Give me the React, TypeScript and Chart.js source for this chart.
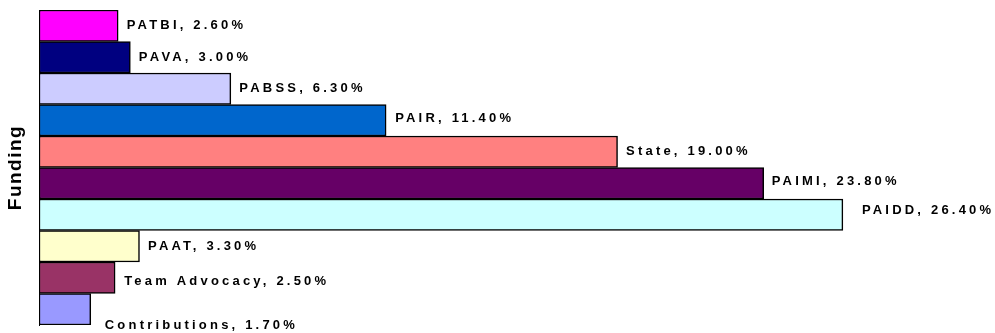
import React, { useEffect, useRef } from "react";
import { Chart, registerables } from "chart.js";

Chart.register(...registerables);

const categories = [
  "PATBI",
  "PAVA",
  "PABSS",
  "PAIR",
  "State",
  "PAIMI",
  "PAIDD",
  "PAAT",
  "Team Advocacy",
  "Contributions",
];

const shares = [2.6, 3.0, 6.3, 11.4, 19.0, 23.8, 26.4, 3.3, 2.5, 1.7];

const barColors = [
  "#FF00FF",
  "#000080",
  "#CCCCFF",
  "#0066CC",
  "#FF8080",
  "#660066",
  "#CCFFFF",
  "#FFFFCC",
  "#993366",
  "#9999FF",
];

const axisTitle = "Funding";

const FONT = "'Liberation Sans', Arial, sans-serif";

// label nudges (dx, dy) relative to bar end/centre, mimicking the original placement
const labelNudges: Record<number, [number, number]> = {
  3: [9, -2],
  5: [8, -2],
  6: [19, -4],
  8: [9, 4],
  9: [14, 16],
};

const labelPlugin = {
  id: "barLabels",
  afterDatasetsDraw(chart: any) {
    const ctx = chart.ctx;
    const meta = chart.getDatasetMeta(0);
    ctx.save();
    ctx.font = `bold 13px ${FONT}`;
    (ctx as any).letterSpacing = "3.2px";
    ctx.fillStyle = "#000";
    ctx.textAlign = "left";
    ctx.textBaseline = "middle";
    meta.data.forEach((bar: any, i: number) => {
      const [dx, dy] = labelNudges[i] || [8.5, 0];
      const text = `${categories[i]}, ${shares[i].toFixed(2)}%`;
      ctx.fillText(text, bar.x + dx, bar.y + dy);
    });
    ctx.restore();

    // rotated axis title
    const area = chart.chartArea;
    ctx.save();
    ctx.font = `bold 19px ${FONT}`;
    (ctx as any).letterSpacing = "1.5px";
    ctx.fillStyle = "#000";
    ctx.textAlign = "center";
    ctx.textBaseline = "middle";
    ctx.translate(16, (area.top + area.bottom) / 2);
    ctx.rotate(-Math.PI / 2);
    ctx.fillText(axisTitle, 0, 0);
    ctx.restore();
  },
};

export default function App() {
  const canvasRef = useRef<HTMLCanvasElement | null>(null);

  useEffect(() => {
    if (!canvasRef.current) return;
    const chart = new Chart(canvasRef.current, {
      type: "bar",
      data: {
        labels: categories,
        datasets: [
          {
            data: shares,
            backgroundColor: barColors,
            borderColor: "#000000",
            borderWidth: 1.5,
            borderSkipped: false,
            categoryPercentage: 1,
            barPercentage: 1,
          },
        ],
      },
      options: {
        indexAxis: "y",
        animation: false,
        responsive: false,
        maintainAspectRatio: false,
        layout: { padding: { left: 39, top: 10, bottom: 8, right: 42.5 } },
        plugins: {
          legend: { display: false },
          tooltip: { enabled: false },
          title: { display: false },
        },
        scales: {
          x: {
            min: 0,
            max: 30,
            display: false,
          },
          y: {
            display: true,
            ticks: { display: false },
            grid: { display: false, drawTicks: false },
            border: { display: true, color: "#000", width: 1 },
            afterFit: (s: any) => {
              s.width = 0;
            },
          },
        },
      } as any,
      plugins: [labelPlugin],
    });
    return () => chart.destroy();
  }, []);

  return (
    <div style={{ position: "fixed", left: 0, top: 0, width: 995, height: 333, background: "#fff" }}>
      <canvas ref={canvasRef} width={995} height={333} style={{ display: "block" }} />
    </div>
  );
}
